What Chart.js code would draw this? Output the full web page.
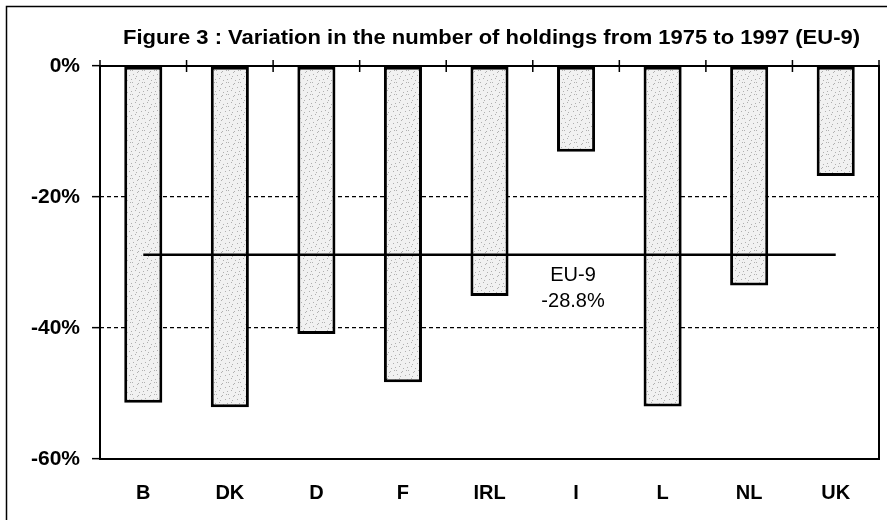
<!DOCTYPE html>
<html>
<head>
<meta charset="utf-8">
<script src="https://cdn.jsdelivr.net/npm/chart.js@4/dist/chart.umd.min.js"></script>
<style>
  html, body { margin: 0; padding: 0; background: #fff; }
  #wrap { width: 887px; height: 520px; position: relative; }
</style>
</head>
<body>
<div id="wrap"><canvas id="c" width="887" height="520"></canvas></div>
<script>
// ---- data ----
const titleText = 'Figure 3 : Variation in the number of holdings from 1975 to 1997 (EU-9)';
const categories = ['B', 'DK', 'D', 'F', 'IRL', 'I', 'L', 'NL', 'UK'];
const variation = [-51.4, -52.1, -40.9, -48.3, -35.1, -13.1, -52.0, -33.5, -16.8];
const eu9Average = -28.8;
const eu9Label = ['EU-9', '-28.8%'];
const yTicks = [0, -20, -40, -60];

// ---- stipple pattern for bars ----
function makePattern() {
  const p = document.createElement('canvas');
  p.width = 12; p.height = 12;
  const g = p.getContext('2d');
  g.fillStyle = '#f1f1f1';
  g.fillRect(0, 0, 12, 12);
  const dots = [[1,2],[5,0],[9,3],[3,6],[7,8],[11,7],[0,10],[6,11],[10,10],[4,4]];
  g.fillStyle = '#b0b0b0';
  dots.forEach(d => g.fillRect(d[0], d[1], 1, 1));
  return g.createPattern(p, 'repeat');
}
const ctx0 = document.getElementById('c').getContext('2d');
const stipple = makePattern();

const decorPlugin = {
  id: 'decor',
  beforeDraw(chart) {
    const ctx = chart.ctx;
    ctx.save();
    ctx.fillStyle = '#fff';
    ctx.fillRect(0, 0, chart.width, chart.height);
    // outer frame (left and top)
    ctx.strokeStyle = '#000';
    ctx.lineWidth = 1.5;
    ctx.beginPath();
    ctx.moveTo(6.5, 520);
    ctx.lineTo(6.5, 6.5);
    ctx.lineTo(887, 6.5);
    ctx.stroke();
    ctx.restore();
  },
  afterDatasetsDraw(chart) {
    const ctx = chart.ctx;
    const a = chart.chartArea;
    const x = chart.scales.x, y = chart.scales.y;
    ctx.save();
    // plot frame
    ctx.strokeStyle = '#000';
    ctx.lineWidth = 2;
    ctx.strokeRect(a.left, a.top, a.right - a.left, a.bottom - a.top);
    // category boundary ticks on the 0% line
    const y0 = y.getPixelForValue(0);
    ctx.lineWidth = 1.5;
    ctx.beginPath();
    for (let i = 0; i <= categories.length; i++) {
      const px = x.getPixelForValue(i - 0.5);
      ctx.moveTo(px, y0 - 6);
      ctx.lineTo(px, y0 + 6);
    }
    ctx.stroke();
    // EU-9 label
    ctx.fillStyle = '#000';
    ctx.font = '20px "Liberation Sans", Arial, sans-serif';
    ctx.textAlign = 'center';
    ctx.textBaseline = 'middle';
    const lx = x.getPixelForValue(5) - 3;
    const ly = y.getPixelForValue(eu9Average);
    ctx.fillText(eu9Label[0], lx, ly + 21);
    ctx.fillText(eu9Label[1], lx, ly + 47);
    // title (slightly widened like the original)
    ctx.font = 'bold 20px "Liberation Sans", Arial, sans-serif';
    ctx.translate((a.left + a.right) / 2 + 2, 38);
    ctx.scale(1.1, 1);
    ctx.fillText(titleText, 0, 0);
    ctx.restore();
  }
};

new Chart(ctx0, {
  data: {
    labels: categories,
    datasets: [
      {
        type: 'line',
        data: categories.map(() => eu9Average),
        borderColor: '#000',
        borderWidth: 2.5,
        pointRadius: 0,
        fill: false,
        order: 0
      },
      {
        type: 'bar',
        data: variation,
        backgroundColor: stipple,
        borderColor: '#000',
        borderWidth: 3,
        borderSkipped: false,
        categoryPercentage: 1,
        barPercentage: 0.44,
        order: 1
      }
    ]
  },
  options: {
    responsive: false,
    animation: false,
    devicePixelRatio: 1,
    layout: { padding: { top: 66, right: 8, left: 0, bottom: 0 } },
    plugins: { legend: { display: false }, title: { display: false }, tooltip: { enabled: false } },
    scales: {
      x: {
        type: 'category',
        grid: { display: false },
        border: { display: false },
        ticks: {
          color: '#000',
          padding: 14,
          font: { family: '"Liberation Sans", Arial, sans-serif', size: 20, weight: 'bold' }
        },
        afterFit(s) { s.height = 61; }
      },
      y: {
        min: -60,
        max: 0,
        afterBuildTicks(s) { s.ticks = yTicks.map(v => ({ value: v })); },
        grid: {
          color: ctx => (ctx.tick && (ctx.tick.value === 0 || ctx.tick.value === -60)) ? 'rgba(0,0,0,0)' : '#000',
          lineWidth: 1.3,
          tickColor: '#000',
          tickLength: 8,
          tickWidth: 1.5
        },
        border: { display: false, dash: [4, 3] },
        ticks: {
          color: '#000',
          padding: 12,
          font: { family: '"Liberation Sans", Arial, sans-serif', size: 21, weight: 'bold' },
          callback: v => v + '%'
        },
        afterFit(s) { s.width = 100; }
      }
    }
  },
  plugins: [decorPlugin]
});
</script>
</body>
</html>
